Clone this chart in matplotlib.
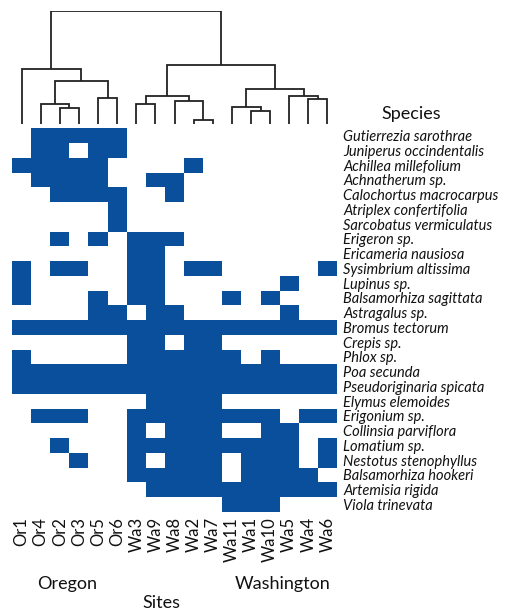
import numpy as np
import matplotlib
matplotlib.use("Agg")
import matplotlib.pyplot as plt
from matplotlib.colors import ListedColormap

plt.rcParams['font.family'] = ['Lato', 'DejaVu Sans']

# Site order (columns) after clustering
sites = ["Or1", "Or4", "Or2", "Or3", "Or5", "Or6",
         "Wa3", "Wa9", "Wa8", "Wa2", "Wa7",
         "Wa11", "Wa1", "Wa10", "Wa5", "Wa4", "Wa6"]

species = ["Gutierrezia sarothrae", "Juniperus occindentalis", "Achillea millefolium",
           "Achnatherum sp.", "Calochortus macrocarpus", "Atriplex confertifolia",
           "Sarcobatus vermiculatus", "Erigeron sp.", "Ericameria nausiosa",
           "Sysimbrium altissima", "Lupinus sp.", "Balsamorhiza sagittata",
           "Astragalus sp.", "Bromus tectorum", "Crepis sp.", "Phlox sp.",
           "Poa secunda", "Pseudoriginaria spicata", "Elymus elemoides",
           "Erigonium sp.", "Collinsia parviflora", "Lomatium sp.",
           "Nestotus stenophyllus", "Balsamorhiza hookeri", "Artemisia rigida",
           "Viola trinevata"]

# Presence (1) / absence (0) of each species at each site, in site order
presence = [
    "01111100000000000",
    "01101100000000000",
    "11111000010000000",
    "01111001100000000",
    "00111100100000000",
    "00000100000000000",
    "00000100000000000",
    "00101011100000000",
    "00000011000000000",
    "10110011011000001",
    "10000011000000100",
    "10001011000101000",
    "00001101100000100",
    "11111111111111111",
    "00000011011000000",
    "10000011111101000",
    "11111111111111111",
    "11111111111111111",
    "00000001111000000",
    "01110011111111011",
    "00000010111001100",
    "00100011111111101",
    "00010010111011101",
    "00000011111011110",
    "00000001111111111",
    "00000000000111000",
]

# Site dendrogram: (child a, child b, merge height); leaves are 0..16,
# merged clusters are numbered from 17 upward in order of creation
merges = [
    (2, 3, 15.7),
    (1, 17, 19.7),
    (4, 5, 26.3),
    (18, 19, 43.0),
    (0, 20, 54.7),
    (9, 10, 4.0),
    (8, 22, 23.3),
    (6, 7, 19.7),
    (24, 23, 28.0),
    (12, 13, 13.0),
    (11, 26, 17.3),
    (15, 16, 25.0),
    (14, 28, 28.3),
    (27, 29, 34.7),
    (25, 30, 59.0),
    (21, 31, 113.3),
]

blue = "#0A4F9C"
W, H = 511, 614
fig = plt.figure(figsize=(W / 100, H / 100), dpi=100)

def frac_box(x0, y0, x1, y1):
    return [x0 / W, 1 - y1 / H, (x1 - x0) / W, (y1 - y0) / H]

# Heatmap
ax = fig.add_axes(frac_box(12, 128.3, 337, 511.8))
mat = np.array([[int(c) for c in row] for row in presence])
ax.pcolormesh(np.arange(len(sites) + 1), np.arange(len(species) + 1), mat,
              cmap=ListedColormap(["white", blue]), vmin=0, vmax=1)
ax.set_xlim(0, len(sites))
ax.set_ylim(len(species), 0)
ax.set_xticks(np.arange(len(sites)) + 0.5)
ax.set_xticklabels(sites, rotation=90, fontsize=12, color="#111111")
ax.set_yticks(np.arange(len(species)) + 0.5)
ax.set_yticklabels(species, fontsize=10.5, fontstyle="italic", color="#111111")
ax.yaxis.tick_right()
ax.tick_params(axis="y", length=0, pad=4.5)
ax.tick_params(axis="x", length=0, pad=4)
for s in ax.spines.values():
    s.set_visible(False)

# Dendrogram
dax = fig.add_axes(frac_box(12, 10.7, 337, 124))
xpos = {i: i + 0.5 for i in range(len(sites))}
hgt = {i: 0.0 for i in range(len(sites))}
node = len(sites)
for a, b, h in merges:
    xa, xb = xpos[a], xpos[b]
    dax.plot([xa, xa, xb, xb], [hgt[a], h, h, hgt[b]],
             color="#222222", lw=1.3, solid_capstyle="butt", solid_joinstyle="miter")
    xpos[node] = (xa + xb) / 2
    hgt[node] = h
    node += 1
dax.set_xlim(0, len(sites))
dax.set_ylim(0, merges[-1][2])
dax.axis("off")

# Titles
fig.text(411 / W, 1 - 114 / H, "Species", fontsize=13, ha="center", va="center", color="#111111")
fig.text(67 / W, 1 - 584 / H, "Oregon", fontsize=13, ha="center", va="center", color="#111111")
fig.text(283 / W, 1 - 584 / H, "Washington", fontsize=13, ha="center", va="center", color="#111111")
fig.text(161 / W, 1 - 603 / H, "Sites", fontsize=13, ha="center", va="center", color="#111111")

fig.savefig("out.png", dpi=100, facecolor="white")
